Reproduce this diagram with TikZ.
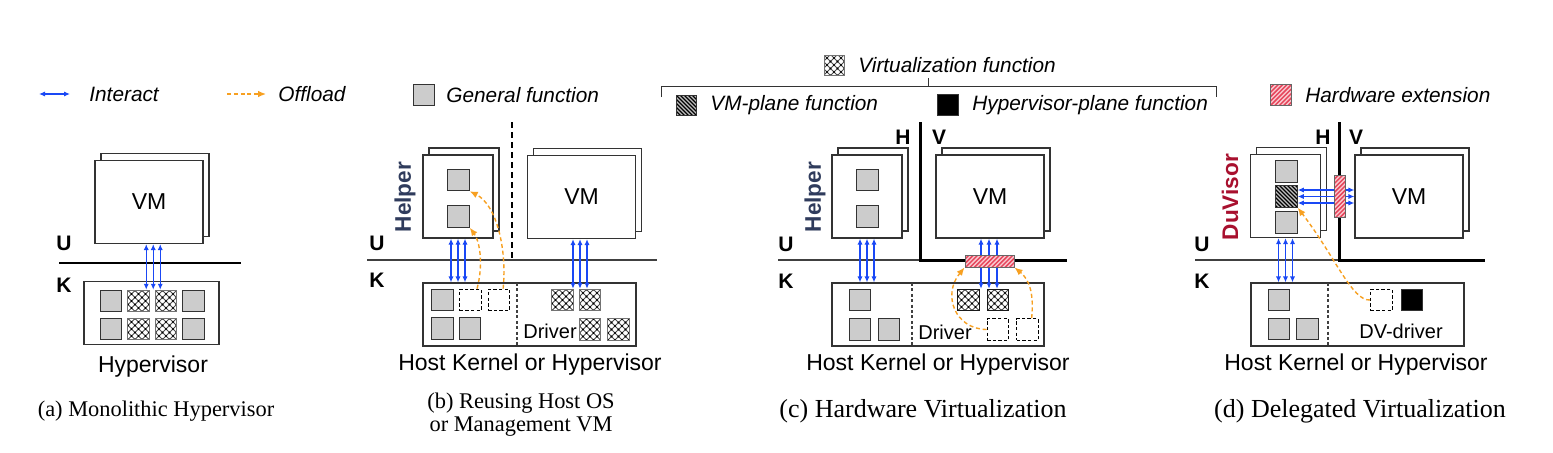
\documentclass[tikz,border=0pt]{standalone}
\usepackage{fontspec}
\setmainfont{Liberation Serif}
\setsansfont{Liberation Sans}
\usetikzlibrary{positioning, arrows.meta, shadows, calc}

\definecolor{iacol}{HTML}{1A48F5}
\definecolor{olcol}{HTML}{F7A021}
\definecolor{genfill}{HTML}{CCCCCC}
\definecolor{hwpink}{HTML}{F9CBD1}
\definecolor{hwred}{HTML}{E6465C}
\definecolor{helpercol}{HTML}{2F3B5C}
\definecolor{duvcol}{HTML}{A8102E}

\newcommand\legfont{\sffamily\itshape\fontsize{10.4}{12}\selectfont}
\newcommand\boxfont{\sffamily\fontsize{11.5}{13}\selectfont}
\newcommand\lvlfont{\sffamily\bfseries\fontsize{10.5}{12}\selectfont}
\newcommand\sidefont{\sffamily\bfseries\fontsize{11.3}{13}\selectfont}
\newcommand\drvfont{\sffamily\fontsize{10}{12}\selectfont}
\newcommand\capfont{\rmfamily\fontsize{11.2}{11.5}\selectfont}
\newcommand\bigcapfont{\rmfamily\fontsize{13}{14}\selectfont}

\newcommand\virtlattice{%
  \begin{scope}[shift={(path picture bounding box.center)}, x=1pt, y=1pt]
    \foreach \k in {-3,...,3} {
      \draw[black!70, line width=0.4pt] (\k*3.5-12,-12) -- (\k*3.5+12,12);
      \draw[black!70, line width=0.4pt] (\k*3.5+12,-12) -- (\k*3.5-12,12);
    }
    \foreach \i in {-3,...,3} \foreach \j in {-3,...,3}
      \fill[black] ({(\i+\j)*1.75},{(\j-\i)*1.75}) circle (0.55pt);
  \end{scope}}
\newcommand\vmhatch{%
  \begin{scope}[shift={(path picture bounding box.center)}, x=1pt, y=1pt]
    \foreach \k in {-8,...,8}
      \draw[black, line width=0.55pt] (\k*2-12,12) -- (\k*2+12,-12);
  \end{scope}}
\newcommand\hwhatch{%
  \begin{scope}[shift={(path picture bounding box.center)}, x=1pt, y=1pt]
    \foreach \k in {-20,...,20}
      \draw[hwred, line width=0.75pt] (\k*2.2-30,-30) -- (\k*2.2+30,30);
  \end{scope}}

\tikzset{
  fn/.style={draw=black!80, line width=0.5pt, minimum size=10.75pt, inner sep=0pt},
  genfn/.style={fn, fill=genfill},
  virtfn/.style={fn, draw=black!55, fill=white, path picture={\virtlattice}},
  vmfn/.style={fn, fill=black!25, path picture={\vmhatch}},
  hvfn/.style={fn, fill=black},
  freefn/.style={fn, draw=black, line width=0.65pt, fill=white, dash pattern=on 1.7pt off 1.1pt},
  hwext/.style={draw=black!60, line width=0.5pt, inner sep=0pt, fill=hwpink, path picture={\hwhatch}},
  vmbox/.style={draw=black!80, fill=white, line width=0.6pt, minimum width=54pt, minimum height=41.5pt,
    font=\boxfont, copy shadow={shadow xshift=3pt, shadow yshift=3.5pt, draw=black!80, fill=white}},
  helperbox/.style={vmbox, minimum width=35pt},
  kbox/.style={draw=black!80, fill=white, line width=0.6pt, minimum height=31.5pt},
  lvl/.style={font=\lvlfont, inner sep=0pt},
  legtext/.style={anchor=west, inner sep=0pt, font=\legfont},
  hosttext/.style={font=\boxfont, inner sep=0pt},
  drvtext/.style={font=\drvfont, inner sep=0pt},
  captext/.style={font=\capfont, inner sep=0pt, align=center},
  helperlbl/.style={font=\sidefont, text=helpercol, rotate=90, inner sep=0pt},
  duvlbl/.style={helperlbl, text=duvcol},
  interact/.style={iacol, line width=0.6pt, {Latex[length=3pt,width=2.6pt]}-{Latex[length=3pt,width=2.6pt]}},
  offload/.style={olcol, line width=0.7pt, dash pattern=on 2pt off 1.4pt, -{Latex[length=4pt,width=3.4pt]}},
  kline/.style={black!75, line width=0.6pt},
  planeline/.style={black, line width=1.5pt},
  sepline/.style={black, line width=0.6pt, dash pattern=on 3pt off 2pt},
  divline/.style={black!75, line width=0.55pt, dash pattern=on 1.5pt off 1.2pt},
  bracketline/.style={black!80, line width=0.5pt}
}

\begin{document}
\begin{tikzpicture}[x=0.5pt, y=-0.5pt]
\useasboundingbox (0,0) rectangle (1553,452);

% legend
\coordinate (lgIaL) at (39,94);
\coordinate (lgIaR) at (70,94);
\draw[interact] (lgIaL) -- (lgIaR);
\node[legtext] (lgIa) at (89,94) {Interact};
\coordinate (lgOlL) at (227,94);
\coordinate (lgOlR) at (266,94);
\draw[offload] (lgOlL) -- (lgOlR);
\node[legtext] (lgOl) at (278,94) {Offload};
\node[genfn] (lgGen) at (424,95) {};
\node[legtext] (lgGenT) at (446,95) {General function};
\node[virtfn, minimum size=10pt] (lgVirt) at (834,65) {};
\node[legtext] (lgVirtT) at (858,65) {Virtualization function};
\draw[bracketline] (661,97) -- (661,86) -- (1216,86) -- (1216,97);
\draw[bracketline] (928,86) -- (928,78);
\node[vmfn, minimum size=10pt] (lgVmp) at (686,105) {};
\node[legtext] (lgVmpT) at (710,105) {VM-plane function};
\node[hvfn] (lgHvp) at (948,105) {};
\node[legtext] (lgHvpT) at (972,105) {Hypervisor-plane function};
\node[hwext, minimum size=10.75pt] (lgHw) at (1281,95) {};
\node[legtext] (lgHwT) at (1305,95) {Hardware extension};

% (a) monolithic
\begin{scope}
\node[vmbox] (aVM) at (149,202) {VM};
\draw[kline, black] (59,263) -- (241,263);
\node[lvl] (aU) at (64,243) {U};
\node[lvl] (aK) at (64,285) {K};
\node[kbox, minimum width=67.5pt] (aKer) at (151.5,313) {};
\node[genfn] (aG1) at (111,301) {};
\node[virtfn] (aV1) at (138.5,301) {};
\node[virtfn] (aV2) at (166,301) {};
\node[genfn] (aG2) at (193.5,301) {};
\node[genfn] (aG3) at (111,329) {};
\node[virtfn] (aV3) at (138.5,329) {};
\node[virtfn] (aV4) at (166,329) {};
\node[genfn] (aG4) at (193.5,329) {};
\coordinate (aIO) at ($(aV1.north east)!0.5!(aV2.north west)$);
\foreach \dx in {-6,1,8}
  \draw[interact] ($(aIO |- aVM.south)+(\dx,0)$) -- ($(aIO)+(\dx,0)$);
\node[hosttext] (aHyp) at (153,367) {Hypervisor};
\node[captext] (aCap) at (156,411) {(a) Monolithic Hypervisor};
\end{scope}

% (b) host os / management vm
\begin{scope}
\draw[sepline] (512,122) -- (512,260);
\draw[kline] (367,260) -- (657,260);
\node[helperbox] (bHelp) at (458,196.5) {};
\node[genfn] (bH1) at (458.5,180) {};
\node[genfn] (bH2) at (458.5,216.5) {};
\node[helperlbl] (bHl) at (405,197) {Helper};
\node[vmbox] (bVM) at (581.5,197) {VM};
\node[lvl] (bU) at (377,243) {U};
\node[lvl] (bK) at (377,280) {K};
\node[kbox, minimum width=106.5pt] (bKer) at (529.5,314.5) {};
\draw[divline] (517,283) -- (517,346);
\node[genfn] (bG1) at (442.5,300) {};
\node[freefn] (bD1) at (470.5,300) {};
\node[freefn] (bD2) at (499,300) {};
\node[genfn] (bG2) at (442.5,328.5) {};
\node[genfn] (bG3) at (470,328.5) {};
\node[virtfn] (bV1) at (562.5,300) {};
\node[virtfn] (bV2) at (590,300) {};
\node[virtfn] (bV3) at (590,329.5) {};
\node[virtfn] (bV4) at (618.5,329.5) {};
\node[drvtext] (bDrv) at (550,331) {Driver};
\foreach \dx in {-7,0,7}
  \draw[interact] ($(bHelp.south)+(\dx,0)$) -- ($(bHelp.south |- bKer.north)+(\dx,0)$);
\foreach \dx in {-8.5,-1.5,5.5}
  \draw[interact] ($(bVM.south)+(\dx,0)$) -- ($(bVM.south |- bV1.north)+(\dx,0)$);
\draw[offload] (bD1.60) .. controls (484,262) and (479,240) .. (bH2.south east);
\draw[offload] (bD2.70) .. controls (507,250) and (497,205) .. (bH1.south east);
\node[hosttext] (bHost) at (530,365) {Host Kernel or Hypervisor};
\node[captext] (bCap) at (521,415) {(b) Reusing Host OS\\or Management VM};
\end{scope}

% (c) hardware virtualization
\begin{scope}
\draw[kline] (778,260) -- (920,260);
\draw[planeline] (920,122) -- (920,260) -- (1067,260);
\node[lvl] (cH) at (903,137) {H};
\node[lvl] (cV) at (939,137) {V};
\node[helperbox] (cHelp) at (867,196.5) {};
\node[genfn] (cH1) at (867.5,180) {};
\node[genfn] (cH2) at (867.5,216.5) {};
\node[helperlbl] (cHl) at (815,197) {Helper};
\node[vmbox] (cVM) at (990,196.5) {VM};
\node[lvl] (cU) at (786,244) {U};
\node[lvl] (cK) at (786,281) {K};
\node[kbox, minimum width=106pt] (cKer) at (938,314.5) {};
\draw[divline] (912,283) -- (912,346);
\node[genfn] (cG1) at (860,300) {};
\node[genfn] (cG2) at (860,329.5) {};
\node[genfn] (cG3) at (889,329.5) {};
\node[virtfn, draw=black!90] (cV1) at (968.5,300) {};
\node[virtfn, draw=black!90] (cV2) at (998,300) {};
\node[freefn] (cD1) at (998,329.5) {};
\node[freefn] (cD2) at (1027.5,329.5) {};
\node[drvtext] (cDrv) at (945,332) {Driver};
\foreach \dx in {-7,0,7}
  \draw[interact] ($(cHelp.south)+(\dx,0)$) -- ($(cHelp.south |- cKer.north)+(\dx,0)$);
\foreach \dx in {-9,-1,7}
  \draw[interact] ($(cVM.south)+(\dx,0)$) -- ($(cVM.south |- cV1.north)+(\dx,0)$);
\node[hwext, minimum width=24.5pt, minimum height=6pt] (cBar) at (989.5,261) {};
\draw[offload] (cD1.west) .. controls (955,329) and (942,295) .. (cBar.south west);
\draw[offload] (cD2.70) .. controls (1034,295) and (1030,280) .. (cBar.south east);
\node[hosttext] (cHost) at (938,365) {Host Kernel or Hypervisor};
\node[captext, font=\bigcapfont] (cCap) at (923,411) {(c) Hardware Virtualization};
\end{scope}

% (d) delegated virtualization
\begin{scope}
\draw[kline] (1195,260) -- (1339,260);
\draw[planeline] (1339,122) -- (1339,260) -- (1485,260);
\node[lvl] (dH) at (1323,137) {H};
\node[lvl] (dV) at (1356,137) {V};
\node[helperbox] (dDv) at (1285.5,196) {};
\node[genfn] (dS1) at (1286.5,171.5) {};
\node[vmfn] (dS2) at (1286.5,196.5) {};
\node[genfn] (dS3) at (1286.5,222.5) {};
\node[duvlbl] (dDl) at (1230,197) {DuVisor};
\node[vmbox] (dVM) at (1409,196.5) {VM};
\foreach \dy in {-6.5,0,6.5}
  \draw[interact] ($(dS2.east)+(0,\dy)$) -- ($(dS2.east -| dVM.west)+(0,\dy)$);
\node[hwext, minimum width=5.5pt, minimum height=21pt] (dBar) at (1339.5,196) {};
\node[lvl] (dU) at (1202,244) {U};
\node[lvl] (dK) at (1202,281) {K};
\node[kbox, minimum width=106.5pt] (dKer) at (1357.5,314.5) {};
\draw[divline] (1328,283) -- (1328,346);
\node[genfn] (dG1) at (1279,300) {};
\node[genfn] (dG2) at (1279,329) {};
\node[genfn] (dG3) at (1307.5,329) {};
\node[freefn] (dD1) at (1381.5,300) {};
\node[hvfn] (dHv) at (1412,300) {};
\node[drvtext] (dDrv) at (1401,331) {DV-driver};
\foreach \dx in {-7,0,7}
  \draw[interact] ($(dDv.south)+(\dx,0)$) -- ($(dDv.south |- dKer.north)+(\dx,0)$);
\draw[offload] (dD1.west) .. controls (1352,301) and (1336,258) .. (dS2.south east);
\node[hosttext] (dHost) at (1356,365) {Host Kernel or Hypervisor};
\node[captext, font=\bigcapfont] (dCap) at (1360,411) {(d) Delegated Virtualization};
\end{scope}
\end{tikzpicture}
\end{document}
